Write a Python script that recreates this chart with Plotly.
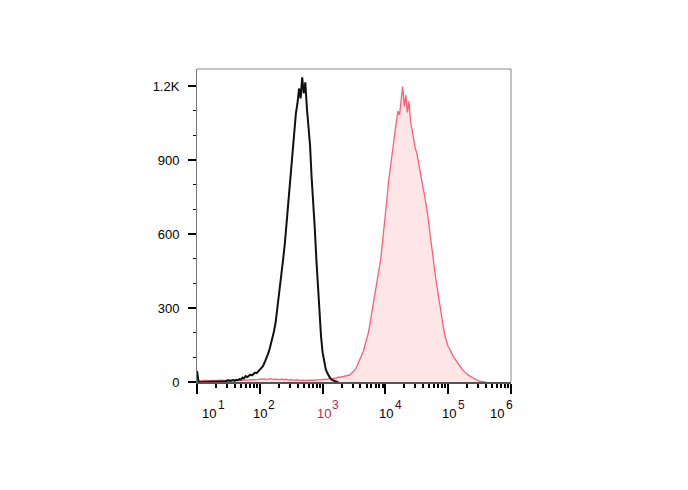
import numpy as np
import plotly.graph_objects as go

# log10 bin grid start and step (histogram channels)
LOG_START = 1.0
LOG_STEP = 0.025

# Unstained control (black) counts per channel
black_counts = [
    45, 0, 0, 0, 0, 0, 0, 0, 0, 0, 0, 0, 0, 0, 0, 0,
    2, 0, 3, 5, 7, 4, 6, 8, 5, 9, 7, 12, 10, 18, 15, 24,
    20, 26, 30, 27, 33, 38, 36, 44, 52, 58, 64, 78, 92, 110, 128, 160,
    178, 205, 238, 290, 340, 392, 450, 505, 565, 640, 700, 790, 868, 950, 1015, 1090,
    1130, 1190, 1150, 1235, 1170, 1215, 1110, 1045, 960, 830, 740, 625, 500, 380, 270, 185,
    120, 80, 52, 36, 22, 14, 9, 5, 3, 1, 0,
]

# Stained sample (red, filled) counts per channel
red_counts = [
    4, 3, 5, 4, 6, 5, 4, 6, 5, 6, 5, 4, 6, 5, 7, 6,
    5, 7, 6, 7, 6, 5, 7, 6, 8, 7, 6, 8, 7, 9, 8, 7,
    9, 8, 10, 9, 8, 10, 9, 11, 12, 10, 11, 13, 10, 12, 11, 14,
    12, 10, 12, 11, 13, 10, 12, 9, 11, 9, 10, 8, 10, 8, 7, 9,
    7, 8, 7, 6, 8, 7, 6, 8, 7, 6, 8, 7, 9, 8, 10, 9,
    11, 10, 12, 11, 14, 13, 15, 14, 17, 16, 20, 18, 22, 21, 25, 24,
    28, 27, 32, 38, 44, 53, 66, 80, 93, 106, 126, 150, 170, 196, 230, 268,
    303, 336, 373, 408, 446, 498, 558, 613, 678, 743, 813, 868, 923, 968, 1008, 1058,
    1098, 1083, 1158, 1198, 1118, 1163, 1093, 1138, 1058, 1018, 983, 948, 928, 893, 868, 818,
    788, 753, 718, 673, 628, 578, 528, 473, 423, 378, 333, 293, 253, 218, 186, 163,
    143, 133, 118, 106, 96, 88, 78, 69, 60, 50, 43, 38, 32, 27, 23, 18,
    14, 11, 8, 5, 3, 1, 0, 0, 0,
]

# x tick labels (decades)
decades = [1, 2, 3, 4, 5, 6]
exp_labels = ["1", "2", "3", "4", "5", "6"]
base_colors = ["#000000", "#000000", "#d0204a", "#000000", "#000000", "#000000"]
exp_colors = ["#3a0010", "#000000", "#d0204a", "#5a0018", "#5a0018", "#000000"]

# y ticks
y_tickvals = [0, 300, 600, 900, 1200]
y_ticktext = ["0", "300", "600", "900", "1.2K"]

black_x = 10 ** (LOG_START + LOG_STEP * np.arange(len(black_counts)))
red_x = 10 ** (LOG_START + LOG_STEP * np.arange(len(red_counts)))

fig = go.Figure()
fig.add_trace(go.Scatter(
    x=red_x, y=red_counts, mode="lines",
    line=dict(color="#ff5c78", width=1.3),
    fill="tozeroy", fillcolor="#ffe6e6",
    showlegend=False, hoverinfo="skip",
))
fig.add_trace(go.Scatter(
    x=black_x, y=black_counts, mode="lines",
    line=dict(color="#111111", width=2),
    showlegend=False, hoverinfo="skip",
))

fig.update_layout(
    width=688, height=490,
    margin=dict(l=189, r=185, t=61, b=116),
    paper_bgcolor="white", plot_bgcolor="white",
    font=dict(family="Liberation Sans, Arial, sans-serif", color="#000000", size=12),
    xaxis=dict(
        type="log", range=[1, 6],
        tickvals=[10 ** d for d in decades], showticklabels=False,
        ticks="outside", ticklen=10, tickwidth=2, tickcolor="#000000",
        minor=dict(ticks="outside", ticklen=4, tickwidth=1.5, tickcolor="#000000", dtick="D1"),
        showline=True, linecolor="#555555", linewidth=2,
        showgrid=False, zeroline=False,
    ),
    yaxis=dict(
        range=[0, 1269],
        tickvals=y_tickvals, ticktext=y_ticktext,
        ticks="outside", ticklen=8, tickwidth=2, tickcolor="#000000",
        minor=dict(ticks="outside", ticklen=3, tickwidth=1, tickcolor="#000000", dtick=100),
        showline=True, linecolor="#777777", linewidth=1,
        showgrid=False, zeroline=False,
        tickfont=dict(size=13),
        ticklabelstandoff=6,
    ),
    shapes=[
        dict(type="line", xref="paper", yref="paper", x0=0, x1=1, y0=1, y1=1,
             line=dict(color="#888888", width=1)),
        dict(type="line", xref="paper", yref="paper", x0=1, x1=1, y0=0, y1=1,
             line=dict(color="#888888", width=1)),
    ],
)

# decade labels "10" with superscript exponent
label_offsets = [12, 0, 1, 1, 1, -14]
annotations = []
for d, e, bc, ec, off in zip(decades, exp_labels, base_colors, exp_colors, label_offsets):
    annotations.append(dict(
        x=d, xref="x", y=0, yref="paper", text="10", showarrow=False,
        xshift=off, yshift=-41, font=dict(size=13, color=bc),
    ))
    annotations.append(dict(
        x=d, xref="x", y=0, yref="paper", text=e, showarrow=False,
        xshift=off + 12, yshift=-32, font=dict(size=12, color=ec),
    ))
fig.update_layout(annotations=annotations)

fig.write_html("out.html")
